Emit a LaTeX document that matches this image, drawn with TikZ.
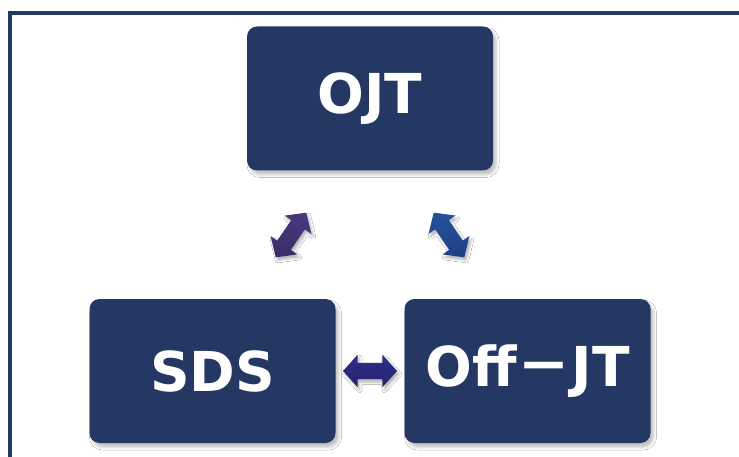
\documentclass[tikz,border=0pt]{standalone}
\usepackage{fontspec}
\setmainfont{DejaVu Sans}
\newfontfamily\jpfont{Noto Sans CJK JP}
\usetikzlibrary{shapes.arrows,shadows.blur}
\definecolor{navy}{RGB}{37,56,99}
\definecolor{arrL}{RGB}{58,44,106}
\definecolor{arrLt}{RGB}{72,56,126}
\definecolor{arrR}{RGB}{28,64,130}
\definecolor{arrRt}{RGB}{38,82,154}
\definecolor{arrH}{RGB}{36,34,112}
\definecolor{arrHt}{RGB}{48,46,136}
\tikzset{
  box/.style={fill=navy, rounded corners=10pt, inner sep=0pt,
    minimum width=246pt, minimum height=144pt, text=white,
    font=\fontsize{55}{60}\selectfont\bfseries,
    blur shadow={shadow xshift=3pt, shadow yshift=-4pt, shadow blur radius=3pt, shadow opacity=25}},
  darrow/.style={double arrow, inner sep=0pt, minimum height=54pt,
    minimum width=32pt, double arrow head extend=8pt,
    double arrow tip angle=96,
    blur shadow={shadow xshift=2pt, shadow yshift=-3pt, shadow blur radius=2.5pt, shadow opacity=30}},
  frameline/.style={draw=navy, line width=3.5pt, miter limit=10}
}
\newcommand{\shaft}{\rule{0pt}{16pt}}
\begin{document}
\begin{tikzpicture}[x=1pt,y=-1pt]
\useasboundingbox (0,0) rectangle (739,457);
\fill[white] (0,0) rectangle (739,457);
\coordinate (fb) at (10,460);
\coordinate (fc) at (10,13);
\coordinate (fr) at (742,13);
\draw[frameline] (fb) -- (fc) -- (fr);
\node[box] (ojt) at (370,98.5) {OJT};
\node[box] (sds) at (212.5,371) {SDS};
\node[box] (off) at (527.5,371) {Off{\jpfont\bfseries －}JT};
\node[darrow, top color=arrLt, bottom color=arrL, rotate=55.7] (al) at (291,235) {\shaft};
\node[darrow, top color=arrRt, bottom color=arrR, rotate=-55.7] (ar) at (449,235) {\shaft};
\node[darrow, top color=arrHt, bottom color=arrH] (ah) at (370,371) {\shaft};
\end{tikzpicture}
\end{document}
